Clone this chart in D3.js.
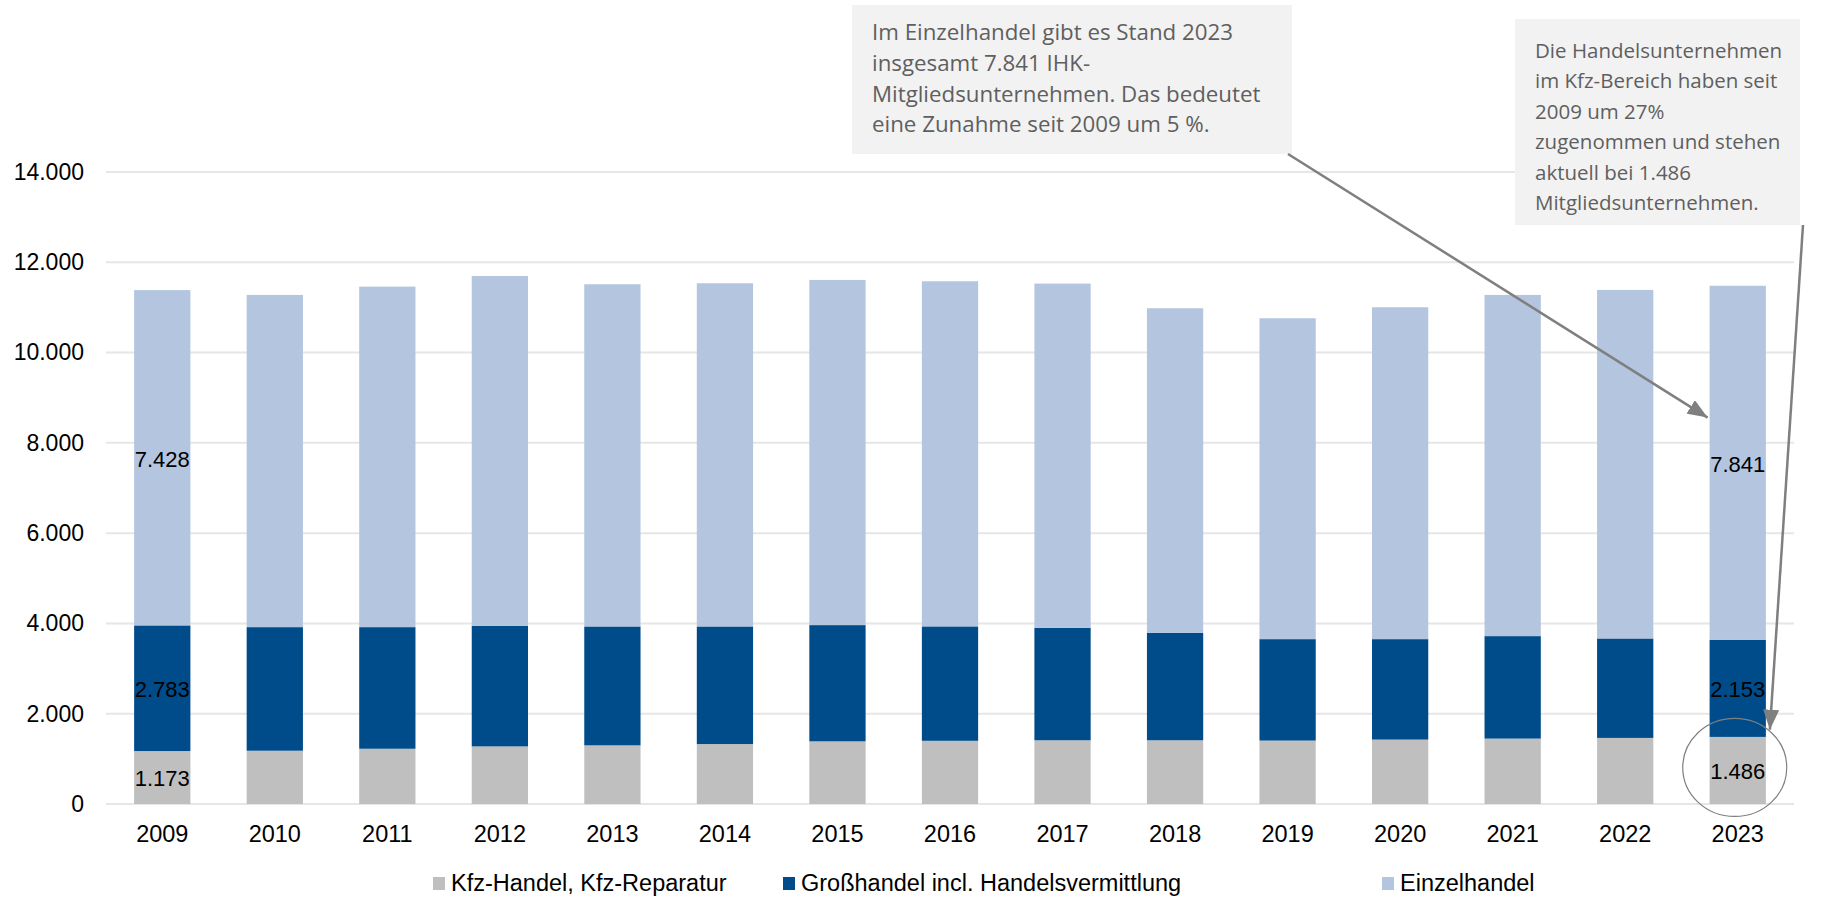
<!DOCTYPE html>
<html>
<head>
<meta charset="utf-8">
<script src="https://cdn.jsdelivr.net/npm/d3@7"></script>
<style>
    html, body { margin: 0; padding: 0; background: #fff; }
    svg { display: block; font-family: 'Liberation Sans', Arial, sans-serif; }
    .note { font-family: 'Open Sans', 'Noto Sans', sans-serif; fill: #5f5f5f; }
</style>
</head>
<body>
<svg id="canvas"></svg>
<script>
const years = ['2009', '2010', '2011', '2012', '2013', '2014', '2015', '2016', '2017', '2018', '2019', '2020', '2021', '2022', '2023'];
const kfz = [1173, 1180, 1224, 1276, 1299, 1328, 1388, 1400, 1412, 1412, 1405, 1427, 1449, 1464, 1486];
const grosshandel = [2783, 2738, 2694, 2672, 2634, 2605, 2575, 2534, 2492, 2381, 2247, 2225, 2270, 2203, 2153];
const einzelhandel = [7428, 7359, 7543, 7749, 7580, 7602, 7646, 7645, 7624, 7189, 7108, 7352, 7558, 7721, 7841];
const seriesNames = ['Kfz-Handel, Kfz-Reparatur', 'Großhandel incl. Handelsvermittlung', 'Einzelhandel'];
const seriesColors = ['#bfbfbf', '#004c8a', '#b3c5df'];
const yTicks = [0, 2000, 4000, 6000, 8000, 10000, 12000, 14000];
const labelYears = ['2009', '2023'];
const note1 = ['Im Einzelhandel gibt es Stand 2023', 'insgesamt 7.841 IHK-', 'Mitgliedsunternehmen. Das bedeutet', 'eine Zunahme seit 2009 um 5 %.'];
const note2 = ['Die Handelsunternehmen', 'im Kfz-Bereich haben seit', '2009 um 27%', 'zugenommen und stehen', 'aktuell bei 1.486', 'Mitgliedsunternehmen.'];

const width = 1827;
const height = 898;
const fmt = d3.formatLocale({ decimal: ',', thousands: '.', grouping: [3] }).format(',d');

const svg = d3.select('#canvas')
    .attr('width', width)
    .attr('height', height);

// 積み上げデータ
const table = years.map((y, i) => ({ year: y, kfz: kfz[i], gross: grosshandel[i], einzel: einzelhandel[i] }));
const stack = d3.stack().keys(['kfz', 'gross', 'einzel'])(table);

const x = d3.scaleBand()
    .domain(years)
    .range([106, 1794])
    .paddingInner(0.5)
    .paddingOuter(0.25);

const y = d3.scaleLinear()
    .domain([0, 14000])
    .range([804, 172]);

// grid
svg.append('g')
    .selectAll('line')
    .data(yTicks)
    .join('line')
    .attr('x1', 106)
    .attr('x2', 1794)
    .attr('y1', d => y(d))
    .attr('y2', d => y(d))
    .attr('stroke', '#e6e6e6')
    .attr('stroke-width', 2);

// Y axis labels
const axisY = d3.axisLeft(y)
    .tickValues(yTicks)
    .tickFormat(fmt)
    .tickSize(0)
    .tickPadding(0);
svg.append('g')
    .attr('transform', 'translate(84,0)')
    .call(axisY)
    .call(g => g.select('.domain').remove())
    .selectAll('text')
    .attr('font-size', 23)
    .attr('font-family', null)
    .attr('fill', '#000');

// X axis labels
const axisX = d3.axisBottom(x).tickSize(0).tickPadding(0);
svg.append('g')
    .attr('transform', 'translate(0,842)')
    .call(axisX)
    .call(g => g.select('.domain').remove())
    .selectAll('text')
    .attr('dy', 0)
    .attr('font-size', 23.5)
    .attr('font-family', null)
    .attr('fill', '#000');

// bars
const layers = svg.append('g')
    .selectAll('g')
    .data(stack)
    .join('g')
    .attr('fill', (d, i) => seriesColors[i]);

layers.selectAll('rect')
    .data(d => d)
    .join('rect')
    .attr('x', d => x(d.data.year))
    .attr('width', x.bandwidth())
    .attr('y', d => y(d[1]))
    .attr('height', d => y(d[0]) - y(d[1]));

// data labels (2009, 2023)
layers.selectAll('text')
    .data(d => d.filter(p => labelYears.includes(p.data.year)).map(p => ({ p, key: d.key })))
    .join('text')
    .attr('x', d => x(d.p.data.year) + x.bandwidth() / 2)
    .attr('y', d => y((d.p[0] + d.p[1]) / 2))
    .attr('dy', '0.4em')
    .attr('text-anchor', 'middle')
    .attr('font-size', 22)
    .attr('fill', '#000')
    .text(d => fmt(d.p.data[d.key]));

// annotations
const defs = svg.append('defs');
defs.append('marker')
    .attr('id', 'arrow')
    .attr('markerUnits', 'userSpaceOnUse')
    .attr('viewBox', '0 0 20 16')
    .attr('markerWidth', 20)
    .attr('markerHeight', 16)
    .attr('refX', 20)
    .attr('refY', 8)
    .attr('orient', 'auto')
    .append('path')
    .attr('d', 'M0,0 L20,8 L0,16 Z')
    .attr('fill', '#7f7f7f');

const drawNote = (lines, x0, y0, w, h, firstBaseline, lineHeight, fontSize) => {
    const g = svg.append('g');
    g.append('rect')
        .attr('x', x0)
        .attr('y', y0)
        .attr('width', w)
        .attr('height', h)
        .attr('fill', '#f2f2f2');
    g.selectAll('text')
        .data(lines)
        .join('text')
        .attr('class', 'note')
        .attr('font-size', fontSize)
        .attr('x', x0 + 20)
        .attr('y', (d, i) => firstBaseline + i * lineHeight)
        .text(d => d);
};

const last = years[years.length - 1];
const lastIdx = years.length - 1;

// circle round 1.486
svg.append('ellipse')
    .attr('cx', x(last) + x.bandwidth() / 2 - 3)
    .attr('cy', y(kfz[lastIdx] / 2) - 3)
    .attr('rx', 52)
    .attr('ry', 49)
    .attr('fill', 'none')
    .attr('stroke', '#7f7f7f')
    .attr('stroke-width', 1.2);

drawNote(note1, 852, 5, 440, 149, 40, 30.8, 22.3);
drawNote(note2, 1515, 19, 285, 206, 58, 30.4, 20.5);

svg.append('line')
    .attr('x1', 1288)
    .attr('y1', 154)
    .attr('x2', x(last) - 2)
    .attr('y2', y(8560))
    .attr('stroke', '#7f7f7f')
    .attr('stroke-width', 2.5)
    .attr('marker-end', 'url(#arrow)');

svg.append('line')
    .attr('x1', 1803)
    .attr('y1', 225)
    .attr('x2', x(last) + x.bandwidth() + 4)
    .attr('y2', y(kfz[lastIdx] + 160))
    .attr('stroke', '#7f7f7f')
    .attr('stroke-width', 2.5)
    .attr('marker-end', 'url(#arrow)');

// legend
const legendX = [433, 783, 1382];
const legend = svg.append('g')
    .selectAll('g')
    .data(seriesNames)
    .join('g')
    .attr('transform', (d, i) => 'translate(' + legendX[i] + ',0)');
legend.append('rect')
    .attr('x', 0)
    .attr('y', 877)
    .attr('width', 12)
    .attr('height', 13)
    .attr('fill', (d, i) => seriesColors[i]);
legend.append('text')
    .attr('x', 18)
    .attr('y', 891)
    .attr('font-size', 23.5)
    .attr('fill', '#000')
    .text(d => d);
</script>
</body>
</html>
